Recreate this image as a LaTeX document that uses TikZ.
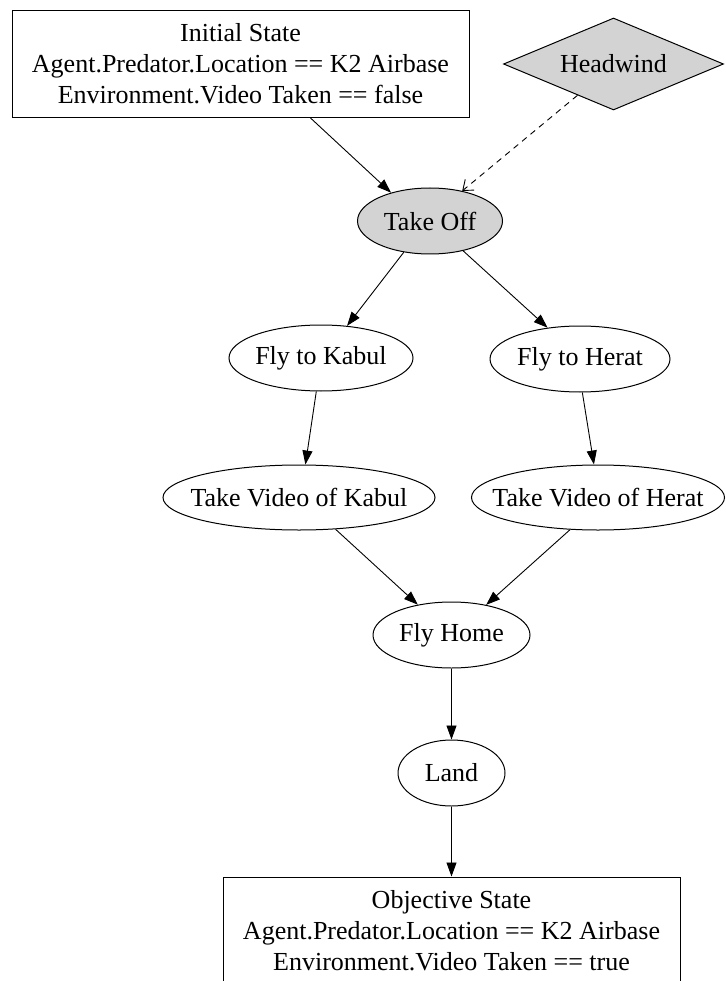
\documentclass[tikz,border=0pt]{standalone}
\usepackage{fontspec}
\setmainfont{Liberation Serif}
\usetikzlibrary{shapes.geometric,arrows.meta}
\definecolor{nodegray}{RGB}{211,211,211}
% zero-width label so the ellipse takes its size from the style alone
\newcommand{\flatlabel}[1]{\makebox[0pt]{#1}}
\begin{document}
\begin{tikzpicture}[x=1pt,y=-1pt,
  every node/.style={font=\fontsize{26}{31}\selectfont, inner sep=0pt, line width=1pt},
  statebox/.style={draw, rectangle, minimum width=457pt, minimum height=107pt, align=center},
  action/.style={draw, ellipse, minimum height=66pt},
  shaded/.style={fill=nodegray},
  factor/.style={draw, diamond, fill=nodegray, aspect=2.4, minimum width=220pt, minimum height=92pt},
  flow/.style={draw, line width=0.9pt, -{Triangle[length=14pt,width=10pt]}},
  influence/.style={draw, line width=0.9pt, dashed, dash pattern=on 6pt off 5pt,
    -{Straight Barb[length=9pt,width=14pt]}}
]
\useasboundingbox (0,0) rectangle (725,981);
\clip (0,0) rectangle (725,981);

% states
\node[statebox] (init) at (240.5,64) {Initial State\\Agent.Predator.Location == K2 Airbase\\Environment.Video Taken == false};
\node[statebox] (goal) at (451.5,930.5) {Objective State\\Agent.Predator.Location == K2 Airbase\\Environment.Video Taken == true};

% external factor
\node[factor] (wind) at (613.5,64) {Headwind};

% actions
\node[action, shaded, minimum width=145pt] (takeoff) at (430,221) {\flatlabel{Take Off}};
\node[action, minimum width=184pt] (kabul) at (321,358) {\flatlabel{Fly to Kabul}};
\node[action, minimum width=180pt] (herat) at (580,359) {\flatlabel{Fly to Herat}};
\node[action, minimum width=272pt, minimum height=65pt] (vidk) at (299,497.5) {\flatlabel{Take Video of Kabul}};
\node[action, minimum width=253pt, minimum height=65pt] (vidh) at (598,497.5) {\flatlabel{Take Video of Herat}};
\node[action, minimum width=157pt] (home) at (451.5,635) {\flatlabel{Fly Home}};
\node[action, minimum width=107pt] (land) at (451.5,773) {\flatlabel{Land}};

% connectors
\draw[flow] ([xshift=70pt]init.south) -- (takeoff.144);
\draw[influence] (wind.221) -- (takeoff.43);
\draw[flow] (takeoff.230) -- (kabul.51);
\draw[flow] (takeoff.318) -- (herat.136);
\draw[flow] (kabul.262) -- (vidk.79);
\draw[flow] (herat.274) -- (vidh.97);
\draw[flow] (vidk.319) -- (home.138);
\draw[flow] (vidh.229) -- (home.41);
\draw[flow] (home.south) -- (land.north);
\draw[flow] (land.south) -- (goal.north);
\end{tikzpicture}
\end{document}
